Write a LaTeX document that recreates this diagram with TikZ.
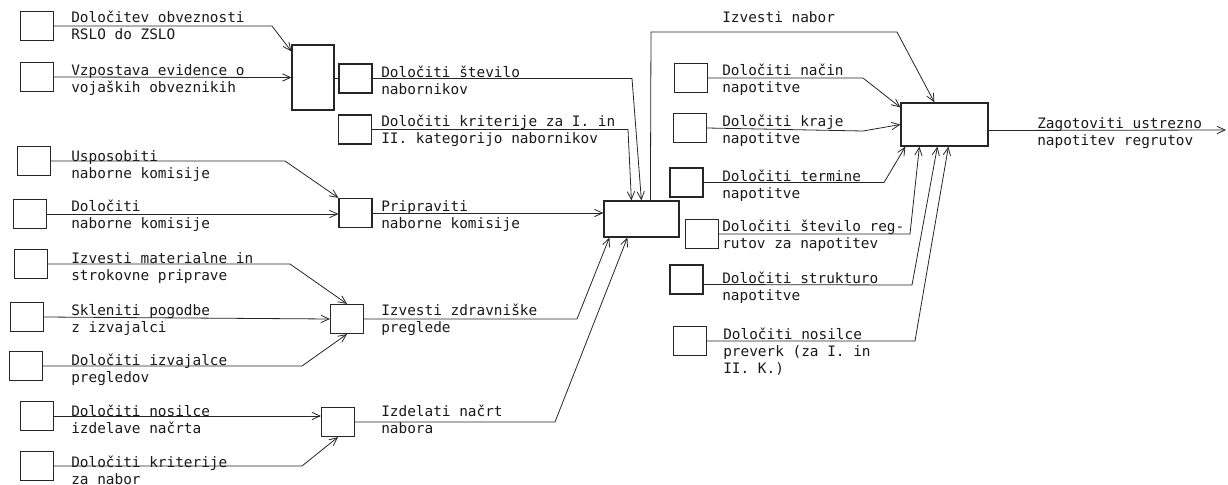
\documentclass[tikz,border=0pt]{standalone}
\usepackage{fontspec}
\newfontfamily\plotfont{DejaVu Sans Mono}
\usetikzlibrary{arrows.meta,calc,shapes.misc}
\begin{document}
\begin{tikzpicture}[x=0.75pt,y=-0.75pt,
  ink/.style={draw=black!85},
  sbox/.style={ink, rectangle, line width=0.9pt, inner sep=0pt, minimum width=24.75pt, minimum height=21.75pt},
  cbox/.style={ink, chamfered rectangle, chamfered rectangle corners=north east, chamfered rectangle xsep=4pt, line width=0.9pt, inner sep=0pt, minimum width=24.75pt, minimum height=21.75pt},
  lbl/.style={anchor=base west, inner sep=0pt, align=left, font=\plotfont\fontsize{10.8pt}{12.75pt}\selectfont, text=black!90},
  conn/.style={ink, line width=0.6pt},
  arr/.style={conn, -{Straight Barb[length=6pt,width=5.5pt]}}]
\useasboundingbox (0,0) rectangle (1228,485);

% large boxes
\node[sbox, minimum width=31.5pt, minimum height=48.75pt] (B) at (313,77.5) {};
\node[sbox, minimum width=56.25pt, minimum height=27pt] (H) at (641.5,219) {};
\node[sbox, minimum width=65.25pt, minimum height=32.25pt] (G) at (944.5,124.5) {};

% left small boxes
\node[sbox] (A1) at (37,26) {};
\node[sbox] (A2) at (37,77) {};
\node[sbox] (L3) at (34,161) {};
\node[sbox] (L4) at (30,214) {};
\node[sbox] (L5) at (31,264) {};
\node[sbox] (L6) at (27,317) {};
\node[sbox] (L7) at (26,366) {};
\node[sbox] (L8) at (37,416) {};
\node[sbox] (L9) at (37,466) {};
% middle small boxes
\node[sbox] (C1) at (355.5,78.5) {};
\node[sbox] (C2) at (355,129.5) {};
\node[sbox] (P) at (355.5,213) {};
\node[sbox] (Z) at (347,319) {};
\node[sbox] (N) at (338,422) {};
% right small boxes
\node[sbox] (R1) at (691,78) {};
\node[sbox] (R2) at (690,128) {};
\node[cbox] (R3) at (686.5,182.5) {};
\node[sbox] (R4) at (702,234) {};
\node[sbox] (R5) at (686.5,279.5) {};
\node[sbox] (R6) at (690,341) {};

% labels (anchor = baseline of the last line)
\node[lbl] (tA1) at (71,40) {Določitev obveznosti\\RSLO do ZSLO};
\node[lbl] (tA2) at (71,93) {Vzpostava evidence o\\vojaških obveznikih};
\node[lbl] (tC1) at (381,94) {Določiti število\\nabornikov};
\node[lbl] (tC2) at (381,143) {Določiti kriterije za I. in\\II. kategorijo nabornikov};
\node[lbl] (tL3) at (71,178) {Usposobiti\\naborne komisije};
\node[lbl] (tL4) at (71,228) {Določiti\\naborne komisije};
\node[lbl] (tP) at (381,228) {Pripraviti\\naborne komisije};
\node[lbl] (tL5) at (71,280) {Izvesti materialne in\\strokovne priprave};
\node[lbl] (tL6) at (71,332) {Skleniti pogodbe\\z izvajalci};
\node[lbl] (tZ) at (381,332) {Izvesti zdravniške\\preglede};
\node[lbl] (tL7) at (71,382) {Določiti izvajalce\\pregledov};
\node[lbl] (tL8) at (71,433) {Določiti nosilce\\izdelave načrta};
\node[lbl] (tN) at (381,433) {Izdelati načrt\\nabora};
\node[lbl] (tL9) at (71,484) {Določiti kriterije\\za nabor};
\node[lbl] (tIN) at (722,23) {Izvesti nabor};
\node[lbl] (tR1) at (722,93) {Določiti način\\napotitve};
\node[lbl] (tR2) at (722,143) {Določiti kraje\\napotitve};
\node[lbl] (tR3) at (722,198) {Določiti termine\\napotitve};
\node[lbl] (tR4) at (722,248) {Določiti število reg-\\rutov za napotitev};
\node[lbl] (tR5) at (722,300) {Določiti strukturo\\napotitve};
\node[lbl] (tR6) at (723,373) {Določiti nosilce\\preverk (za I. in\\II. K.)};
\node[lbl] (tG) at (1037,145) {Zagotoviti ustrezno\\napotitev regrutov};

\coordinate (out) at (1226,130);

% connectors, left part
\draw[arr] (A1.east) -- (272,26) -- ($(B.north west)+(0,7)$);
\draw[arr] (A2.east) -- (B.west);
\draw[conn] (B.east |- C1.west) -- (C1.west);
\draw[arr] (C1.east) -- (632,78.5) -- ($(H.north west)+(38,0)$);
\draw[arr] (C2.east) -- (628,129.5) -- ($(H.north west)+(28,0)$);
\draw[arr] (L3.east) -- (285,161) -- (P.north west);
\draw[arr] (L4.east) -- (P.west |- L4.east);
\draw[arr] (P.east) -- (P.east -| H.west);
\draw[arr] (L5.east) -- (290,264) -- (Z.north);
\draw[arr] (L6.east) -- (Z.west);
\draw[arr] (L7.east) -- (302,366) -- (Z.south);
\draw[arr] (Z.east) -- (577,319) -- ($(H.south west)+(6,0)$);
\draw[arr] (L8.east) -- (N.west |- L8.east);
\draw[arr] (L9.east) -- (302,466) -- (N.south);
\draw[arr] (N.east) -- (555,422) -- ($(H.south west)+(24,0)$);

% connectors, right part
\draw[arr] ($(H.north west)+(47,0)$) -- (651,32) -- (897,32) -- ($(G.north west)+(34,0)$);
\draw[arr] (R1.east) -- (863,78) -- ($(G.north west)+(0,5)$);
\draw[arr] (R2.east) -- (863,131) -- (G.west);
\draw[arr] (R3.east) -- (884,182.5) -- ($(G.south west)+(5,0)$);
\draw[arr] (R4.east) -- (910,234) -- ($(G.south west)+(19,0)$);
\draw[arr] ($(R5.east)+(0,5)$) -- (912,285) -- ($(G.south west)+(37,0)$);
\draw[arr] (R6.east) -- (915,341) -- ($(G.south west)+(48,0)$);
\draw[arr] ($(G.east)+(0,6)$) -- (out);
\end{tikzpicture}
\end{document}
